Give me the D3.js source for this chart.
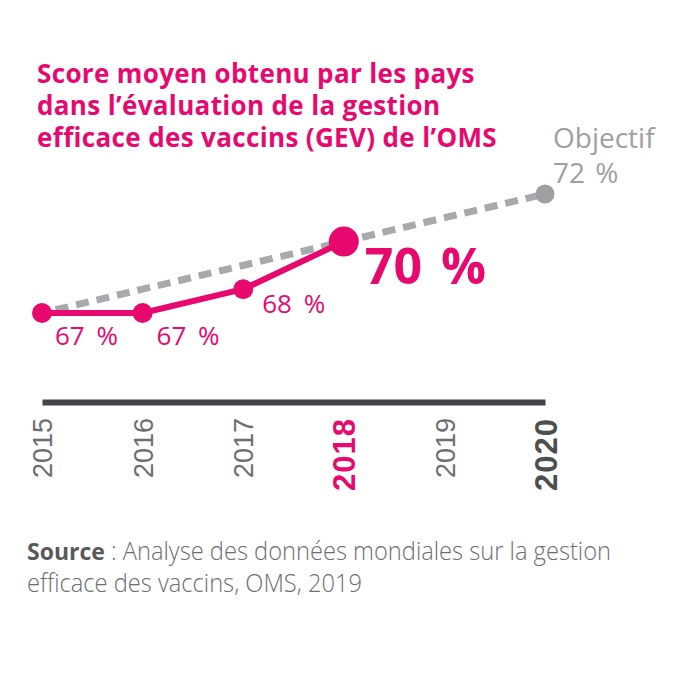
<!DOCTYPE html>
<html>
<head>
<meta charset="utf-8">
<script src="https://cdn.jsdelivr.net/npm/d3@7"></script>
<style>
  body { margin: 0; background: #fff; }
</style>
</head>
<body>
<div id="chart"></div>
<script>
var years = [2015, 2016, 2017, 2018, 2019, 2020];
var scoreYears = [2015, 2016, 2017, 2018];
var scores = [67, 67, 68, 70];
var objectiveYears = [2015, 2020];
var objective = [67, 72];
var titleLines = [
  "Score moyen obtenu par les pays",
  "dans l\u2019\u00e9valuation de la gestion",
  "efficace des vaccins (GEV) de l\u2019OMS"
];

var pink = "#e8096f";
var grey = "#a7a9ac";

renderChart();

function renderChart() {
  var width = 700, height = 700;

  var svg = d3.select("#chart")
    .append("svg")
    .attr("width", width)
    .attr("height", height);

  var x = d3.scaleLinear().domain([2015, 2020]).range([42, 545]);
  var y = d3.scaleLinear().domain([67, 72]).range([313, 194]);

  // title
  svg.append("text")
    .attr("font-family", "'Open Sans', sans-serif")
    .attr("font-weight", "bold")
    .attr("font-size", 26)
    .attr("letter-spacing", 0.35)
    .attr("fill", pink)
    .selectAll("tspan")
    .data(titleLines)
    .enter().append("tspan")
    .attr("x", 37)
    .attr("y", function(d, i) { return 83 + i * 32; })
    .text(function(d) { return d; });

  // objective dashed line
  var objPts = objectiveYears.map(function(d, i) { return [d, objective[i]]; });
  var line = d3.line()
    .x(function(d) { return x(d[0]); })
    .y(function(d) { return y(d[1]); });

  svg.append("path")
    .datum(objPts)
    .attr("d", line)
    .attr("fill", "none")
    .attr("stroke", grey)
    .attr("stroke-width", 7)
    .attr("stroke-dasharray", "13,8")
    .attr("stroke-dashoffset", -14);

  svg.append("circle")
    .attr("cx", x(2020))
    .attr("cy", y(72))
    .attr("r", 9.5)
    .attr("fill", "#9d9fa2");

  svg.append("text")
    .attr("font-family", "'Open Sans', sans-serif")
    .attr("font-size", 28)
    .attr("fill", "#9d9fa2")
    .attr("word-spacing", 3)
    .selectAll("tspan")
    .data(["Objectif", objective[1] + " %"])
    .enter().append("tspan")
    .attr("x", 553)
    .attr("y", function(d, i) { return 148 + i * 35; })
    .text(function(d) { return d; });

  // score line
  var pts = scoreYears.map(function(d, i) { return [d, scores[i]]; });
  svg.append("path")
    .datum(pts)
    .attr("d", line)
    .attr("fill", "none")
    .attr("stroke", pink)
    .attr("stroke-width", 6)
    .attr("stroke-linejoin", "round");

  svg.selectAll(".pt")
    .data(pts)
    .enter().append("circle")
    .attr("class", "pt")
    .attr("cx", function(d) { return x(d[0]); })
    .attr("cy", function(d) { return y(d[1]); })
    .attr("r", function(d) { return d[0] === 2018 ? 15 : 10; })
    .attr("fill", pink);

  // value labels
  var labelOffsets = [[13, 32], [14, 32], [19, 24], [21, 42]];
  svg.selectAll(".val")
    .data(pts)
    .enter().append("text")
    .attr("class", "val")
    .attr("font-family", "'Open Sans', sans-serif")
    .attr("font-size", function(d) { return d[0] === 2018 ? 50 : 26; })
    .attr("font-weight", function(d) { return d[0] === 2018 ? "bold" : "normal"; })
    .attr("word-spacing", function(d) { return d[0] === 2018 ? 6 : 5; })
    .attr("fill", pink)
    .attr("x", function(d, i) { return x(d[0]) + labelOffsets[i][0]; })
    .attr("y", function(d, i) { return y(d[1]) + labelOffsets[i][1]; })
    .text(function(d) { return d[1] + " %"; });

  // x axis
  var axis = svg.append("g")
    .attr("transform", "translate(0,402)")
    .call(d3.axisBottom(x).tickValues(years).tickFormat(d3.format("d")).tickSize(0).tickSizeOuter(0));

  axis.select(".domain")
    .attr("stroke", "#434447")
    .attr("stroke-width", 6);

  axis.selectAll(".tick text")
    .attr("font-family", "'Liberation Sans', Arial, sans-serif")
    .attr("font-size", function(d) { return d === 2018 || d === 2020 ? 31 : 27; })
    .attr("letter-spacing", function(d) { return d === 2018 || d === 2020 ? 1 : 0; })
    .attr("text-anchor", "end")
    .attr("x", 0)
    .attr("y", 0)
    .attr("dy", "0.36em")
    .attr("transform", "translate(0,16) rotate(-90)")
    .attr("font-weight", function(d) { return d === 2018 || d === 2020 ? "bold" : "normal"; })
    .attr("fill", function(d) {
      if (d === 2018) return pink;
      if (d === 2020) return "#4d4e50";
      return "#6d6e71";
    });

  // source
  svg.append("text")
    .attr("font-family", "'Open Sans', sans-serif")
    .attr("font-weight", "bold")
    .attr("font-size", 23)
    .attr("fill", "#58595b")
    .attr("x", 27)
    .attr("y", 560)
    .text("Source");

  var srcLines = [
    {t: ": Analyse des donn\u00e9es mondiales sur la gestion", x: 111, y: 560, len: 500},
    {t: "efficace des vaccins, OMS, 2019", x: 27, y: 592, len: 335}
  ];
  svg.selectAll(".src")
    .data(srcLines)
    .enter().append("text")
    .attr("class", "src")
    .attr("font-family", "'Open Sans', sans-serif")
    .attr("font-size", 25)
    .attr("font-weight", 300)
    .attr("fill", "#6d6e71")
    .attr("x", function(d) { return d.x; })
    .attr("y", function(d) { return d.y; })
    .attr("textLength", function(d) { return d.len; })
    .attr("lengthAdjust", "spacingAndGlyphs")
    .text(function(d) { return d.t; });
}
</script>
</body>
</html>
